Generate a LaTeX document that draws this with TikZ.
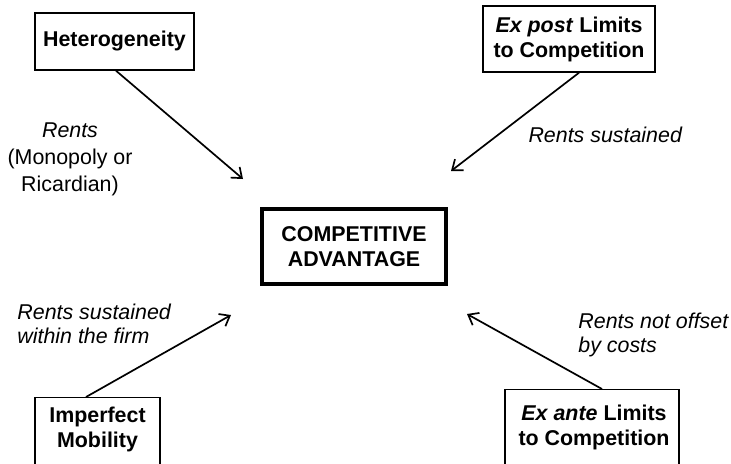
\documentclass[tikz,border=0pt]{standalone}
\usepackage{fontspec}
\setmainfont{Liberation Sans}
\usetikzlibrary{arrows.meta,calc}
\begin{document}
\begin{tikzpicture}[x=0.5pt,y=-0.5pt,
  box/.style={draw, line width=0.7pt, inner sep=0pt, align=center},
  boxtxt/.style={inner sep=0pt, align=center, font=\bfseries\fontsize{10.7}{12.5}\selectfont},
  lbl/.style={inner sep=0pt, font=\fontsize{10.7}{12}\selectfont},
  arr/.style={line width=0.85pt, -{Straight Barb[length=4.5pt,width=7pt]}}]
\useasboundingbox (0,0) rectangle (731,463);
\clip (0,0) rectangle (731,463);
% boxes
\node[box, boxtxt, minimum width=79.5pt, minimum height=28.5pt] (het) at (114.5,41.5) {Heterogeneity};
\node[box, boxtxt, minimum width=86pt, minimum height=33pt] (ep) at (569,39) {\textit{Ex post} Limits\\to Competition};
\node[box, boxtxt, line width=1.6pt, minimum width=92pt, minimum height=37.5pt] (ca) at (354,246.5) {COMPETITIVE\\ADVANTAGE};
\node[box, minimum width=62.5pt, minimum height=50pt, anchor=north] (im) at (97.5,397) {};
\node[boxtxt] (imt) at (97.5,429) {Imperfect\\Mobility};
\node[box, minimum width=87pt, minimum height=50pt, anchor=north] (ea) at (592,389) {};
\node[boxtxt] (eat) at (594,427) {\textit{Ex ante} Limits\\to Competition};
% labels
\node[lbl, align=center, font=\fontsize{10.7}{13.5}\selectfont] (l1) at (70,159) {\textit{Rents}\\(Monopoly or\\Ricardian)};
\node[lbl] (l2) at (605.5,135) {\textit{Rents sustained}};
\node[lbl, align=left, anchor=west] (l3) at (17,324) {\textit{Rents sustained}\\\textit{within the firm}};
\node[lbl, align=left, anchor=west] (l4) at (578,335) {\textit{Rents not offset}\\\textit{by costs}};
% arrow tips
\coordinate (t1) at (243,179);
\coordinate (t2) at (451,171);
\coordinate (t3) at (231,315);
\coordinate (t4) at (467,314);
\draw[arr] ($(het.south)+(1.5,0)$) -- (t1);
\draw[arr] ($(ep.south)+(10,0)$) -- (t2);
\draw[arr] ($(im.north)+(-11.5,0)$) -- (t3);
\draw[arr] ($(ea.north)+(10,0)$) -- (t4);
\end{tikzpicture}
\end{document}
